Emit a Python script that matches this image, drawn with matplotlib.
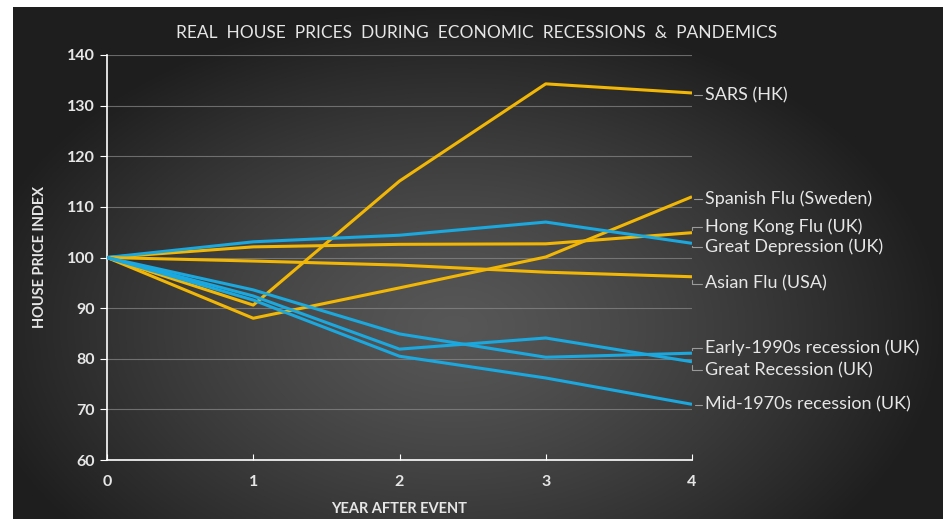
import numpy as np
import matplotlib
matplotlib.use('Agg')
import matplotlib.pyplot as plt

plt.rcParams['font.family'] = ['Lato', 'DejaVu Sans']

# data
years = [0, 1, 2, 3, 4]
sars_hk = [100, 90.6, 115.1, 134.3, 132.5]
spanish_flu = [100, 88.0, 94.0, 100.1, 112.0]
hongkong_flu = [100, 102.1, 102.6, 102.7, 104.9]
great_depression = [100, 103.1, 104.4, 107.0, 102.8]
asian_flu = [100, 99.3, 98.5, 97.1, 96.2]
early_1990s = [100, 93.6, 84.9, 80.3, 81.1]
great_recession = [100, 92.4, 81.9, 84.1, 79.4]
mid_1970s = [100, 91.6, 80.5, 76.2, 71.0]

series = [
    ('SARS (HK)', sars_hk, 'y', 132.1),
    ('Spanish Flu (Sweden)', spanish_flu, 'y', 111.6),
    ('Hong Kong Flu (UK)', hongkong_flu, 'y', 106.0),
    ('Great Depression (UK)', great_depression, 'b', 102.1),
    ('Asian Flu (USA)', asian_flu, 'y', 94.8),
    ('Early-1990s recession (UK)', early_1990s, 'b', 82.1),
    ('Great Recession (UK)', great_recession, 'b', 77.8),
    ('Mid-1970s recession (UK)', mid_1970s, 'b', 70.9),
]
colors = {'y': '#F2B705', 'b': '#1BA8DE'}

fig = plt.figure(figsize=(9.43, 5.19), dpi=100, facecolor='white')

# dark radial background
bg = fig.add_axes([13/943, 0, 1 - 13/943, 1 - 7/519])
bg.set_axis_off()
gx, gy = np.meshgrid(np.linspace(-1, 1, 400), np.linspace(-1, 1, 220))
r = np.sqrt(((gx + 0.05) / 1.05) ** 2 + ((gy + 0.25) / 1.25) ** 2)
shade = 0.34 - 0.22 * np.clip(r, 0, 1) ** 1.3
bg.imshow(np.dstack([shade] * 3), aspect='auto', extent=[0, 1, 0, 1], origin='lower')

ax = fig.add_axes([107/943, 59/519, 585/943, 405/519])
ax.patch.set_alpha(0)

for name, vals, c, ly in series:
    ax.plot(years, vals, color=colors[c], lw=2.2, solid_capstyle='butt', zorder=3)
    ax.annotate(name, xy=(4, vals[-1]), xytext=(4.09, ly), color='#E6E6E6',
                fontsize=13, ha='left', va='center', annotation_clip=False,
                arrowprops=dict(arrowstyle='-', color='#9a9a9a', lw=0.8,
                                shrinkA=0, shrinkB=2,
                                connectionstyle='angle,angleA=0,angleB=90,rad=0'))

ax.set_xlim(0, 4)
ax.set_ylim(60, 140)
ax.set_xticks(years)
ax.set_yticks(range(60, 141, 10))
ax.grid(axis='y', color='#8a8a8a', lw=0.8, alpha=0.7)
ax.set_axisbelow(True)
for s in ['top', 'right']:
    ax.spines[s].set_visible(False)
for s in ['left', 'bottom']:
    ax.spines[s].set_color('white')
    ax.spines[s].set_linewidth(1.2)
ax.tick_params(axis='y', colors='white', labelcolor='#E6E6E6', labelsize=11.5,
               direction='out', length=5, pad=4)
ax.tick_params(axis='x', colors='white', labelcolor='#E6E6E6', labelsize=11.5,
               direction='in', length=4, pad=11)
for lab in ax.get_xticklabels() + ax.get_yticklabels():
    lab.set_fontweight('bold')

ax.set_xlabel('YEAR AFTER EVENT', color='#E6E6E6', fontsize=10.5, fontweight='bold', labelpad=9)
ax.set_ylabel('HOUSE PRICE INDEX', color='#E6E6E6', fontsize=10.5, fontweight='bold', labelpad=14)
fig.text(477/943, 1 - 33/519, 'REAL  HOUSE  PRICES  DURING  ECONOMIC  RECESSIONS  &  PANDEMICS',
         color='#E6E6E6', fontsize=12.5, ha='center', va='center')

fig.savefig('out.png', dpi=100, facecolor=fig.get_facecolor())
